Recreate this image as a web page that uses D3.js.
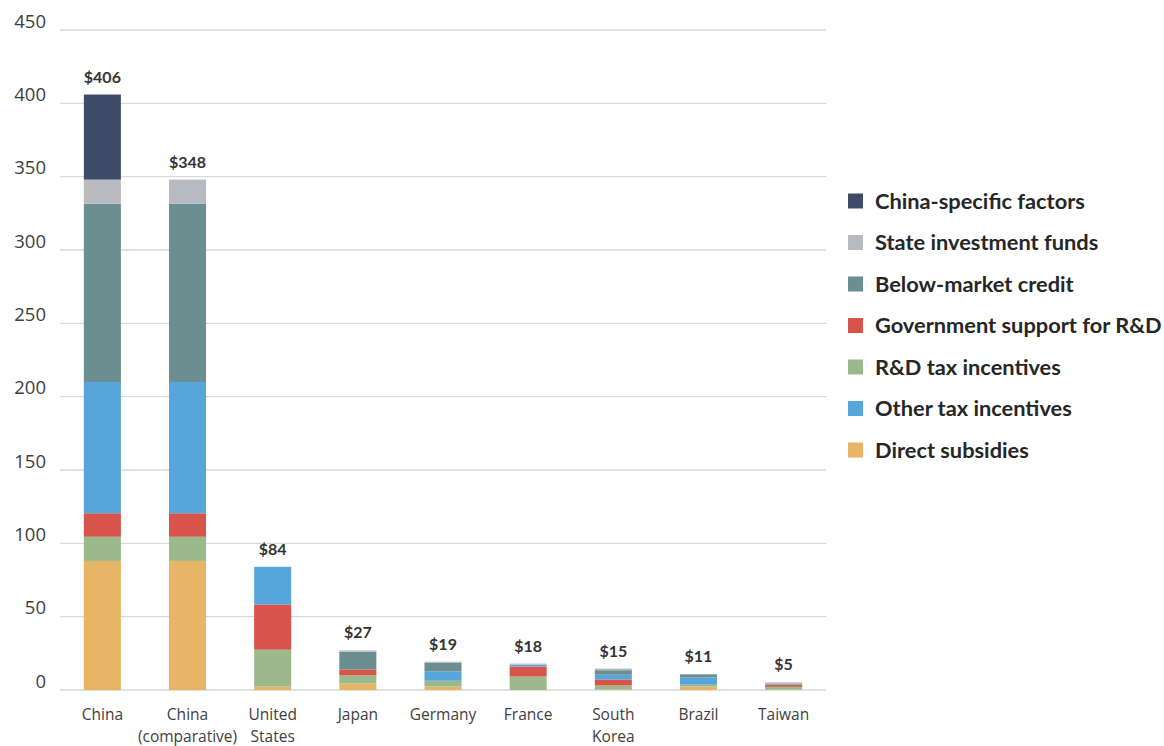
<!DOCTYPE html>
<html>
<head>
<meta charset="utf-8">
<script src="https://cdn.jsdelivr.net/npm/d3@7"></script>
<style>
  html, body { margin: 0; padding: 0; background: #fff; }
  svg { display: block; }
</style>
</head>
<body>
<svg id="chart" width="1164" height="746"></svg>
<script>
// Economies (x categories); "\n" splits a label onto two lines
const categories = ["China", "China\n(comparative)", "United\nStates", "Japan", "Germany", "France", "South\nKorea", "Brazil", "Taiwan"];

// Support components, bottom to top of each stack (billions of US$)
const directSubsidies     = [88,   88,   2.3, 4.5, 2.3, 0,   0.3, 2.3, 0.2];
const rdTaxIncentives     = [16.5, 16.5, 25.2, 5.5, 4,  9.2, 2.8, 1.3, 2];
const otherTaxIncentives  = [89.5, 89.5, 25.7, 0,  6.3, 1.2, 3.2, 5,   0.2];
const govSupportRD        = [16,   16,   30.8, 4,  0,   6.8, 4.1, 0,   1.2];
const belowMarketCredit   = [121.5,121.5,0,   12,  6,   0,   3.1, 2.1, 0.4];
const stateInvestment     = [16.5, 16.5, 0,   1,   0.7, 0.8, 1.1, 0,   1.2];
const chinaSpecific       = [58,   0,    0,   0,   0,   0,   0,   0,   0];

const yTicks = [0, 50, 100, 150, 200, 250, 300, 350, 400, 450];

// Stack order from the baseline upward; the government R&D layer sits below other tax incentives
const stackOrder = [
  { key: "direct",  name: "Direct subsidies",            values: directSubsidies,    color: "#e8b466" },
  { key: "rdtax",   name: "R&D tax incentives",          values: rdTaxIncentives,    color: "#9cb98b" },
  { key: "govrd",   name: "Government support for R&D",  values: govSupportRD,       color: "#d65449" },
  { key: "other",   name: "Other tax incentives",        values: otherTaxIncentives, color: "#58a5dc" },
  { key: "credit",  name: "Below-market credit",         values: belowMarketCredit,  color: "#6b8f91" },
  { key: "state",   name: "State investment funds",      values: stateInvestment,    color: "#b9babf" },
  { key: "china",   name: "China-specific factors",      values: chinaSpecific,      color: "#3e4c6a" }
];

// Legend reads top to bottom
const legendOrder = ["china", "state", "credit", "govrd", "rdtax", "other", "direct"];

const rows = categories.map((c, i) => {
  const r = { category: c };
  stackOrder.forEach(s => { r[s.key] = s.values[i]; });
  return r;
});

const svg = d3.select("#chart");
const margin = { left: 60, right: 338, top: 30, bottom: 56 };
const W = 1164, H = 746;

const x = d3.scaleBand()
  .domain(categories)
  .range([margin.left, W - margin.right])
  .paddingInner(0.565)
  .paddingOuter(0.28);

const y = d3.scaleLinear()
  .domain([0, 450])
  .range([H - margin.bottom, margin.top]);

// Gridlines
svg.append("g")
  .selectAll("line")
  .data(yTicks)
  .join("line")
  .attr("x1", margin.left)
  .attr("x2", W - margin.right)
  .attr("y1", d => y(d))
  .attr("y2", d => y(d))
  .attr("stroke", "#d9d9d9")
  .attr("stroke-width", 1.3);

// Y axis labels
const yAxis = d3.axisLeft(y).tickValues(yTicks).tickSize(0).tickPadding(14);
const yg = svg.append("g")
  .attr("transform", `translate(${margin.left},0)`)
  .call(yAxis);
yg.select(".domain").remove();
yg.selectAll("text")
  .attr("font-family", "'Open Sans', sans-serif")
  .attr("font-size", 18.5)
  .attr("fill", "#404040")
  .attr("dy", "-0.15em");

// Stacked bars
const stack = d3.stack().keys(stackOrder.map(s => s.key));
const series = stack(rows);
const colorOf = Object.fromEntries(stackOrder.map(s => [s.key, s.color]));

svg.append("g")
  .selectAll("g")
  .data(series)
  .join("g")
  .attr("fill", d => colorOf[d.key])
  .selectAll("rect")
  .data(d => d.filter(p => p[1] - p[0] > 0))
  .join("rect")
  .attr("x", d => x(d.data.category))
  .attr("width", x.bandwidth())
  .attr("y", d => y(d[1]))
  .attr("height", d => y(d[0]) - y(d[1]));

// Total labels above each bar
const totals = rows.map(r => ({ category: r.category, total: d3.sum(stackOrder, s => r[s.key]) }));
svg.append("g")
  .selectAll("text")
  .data(totals)
  .join("text")
  .attr("x", d => x(d.category) + x.bandwidth() / 2)
  .attr("y", d => y(d.total) - 12)
  .attr("text-anchor", "middle")
  .attr("font-family", "Lato, sans-serif")
  .attr("font-weight", "bold")
  .attr("font-size", 16)
  .attr("fill", "#333")
  .text(d => "$" + Math.round(d.total));

// X axis labels (multi-line)
const xl = svg.append("g")
  .selectAll("text")
  .data(categories)
  .join("text")
  .attr("x", d => x(d) + x.bandwidth() / 2)
  .attr("y", H - margin.bottom + 30)
  .attr("text-anchor", "middle")
  .attr("font-family", "'Open Sans', sans-serif")
  .attr("font-size", 15.5)
  .attr("fill", "#404040");
xl.selectAll("tspan")
  .data(d => d.split("\n").map((t, i) => ({ t, i, c: d })))
  .join("tspan")
  .attr("x", d => x(d.c) + x.bandwidth() / 2)
  .attr("dy", d => d.i === 0 ? 0 : 22)
  .text(d => d.t);

// Legend
const legendItems = legendOrder.map(k => stackOrder.find(s => s.key === k));
const lg = svg.append("g").attr("transform", "translate(848,201)");
const li = lg.selectAll("g")
  .data(legendItems)
  .join("g")
  .attr("transform", (d, i) => `translate(0,${i * 41.5})`);
li.append("rect")
  .attr("x", 0)
  .attr("y", -7.5)
  .attr("width", 15)
  .attr("height", 15)
  .attr("fill", d => d.color);
li.append("text")
  .attr("x", 27)
  .attr("y", 0)
  .attr("dy", "0.35em")
  .attr("font-family", "Lato, sans-serif")
  .attr("font-weight", "bold")
  .attr("font-size", 21.8)
  .attr("fill", "#262626")
  .text(d => d.name);
</script>
</body>
</html>
